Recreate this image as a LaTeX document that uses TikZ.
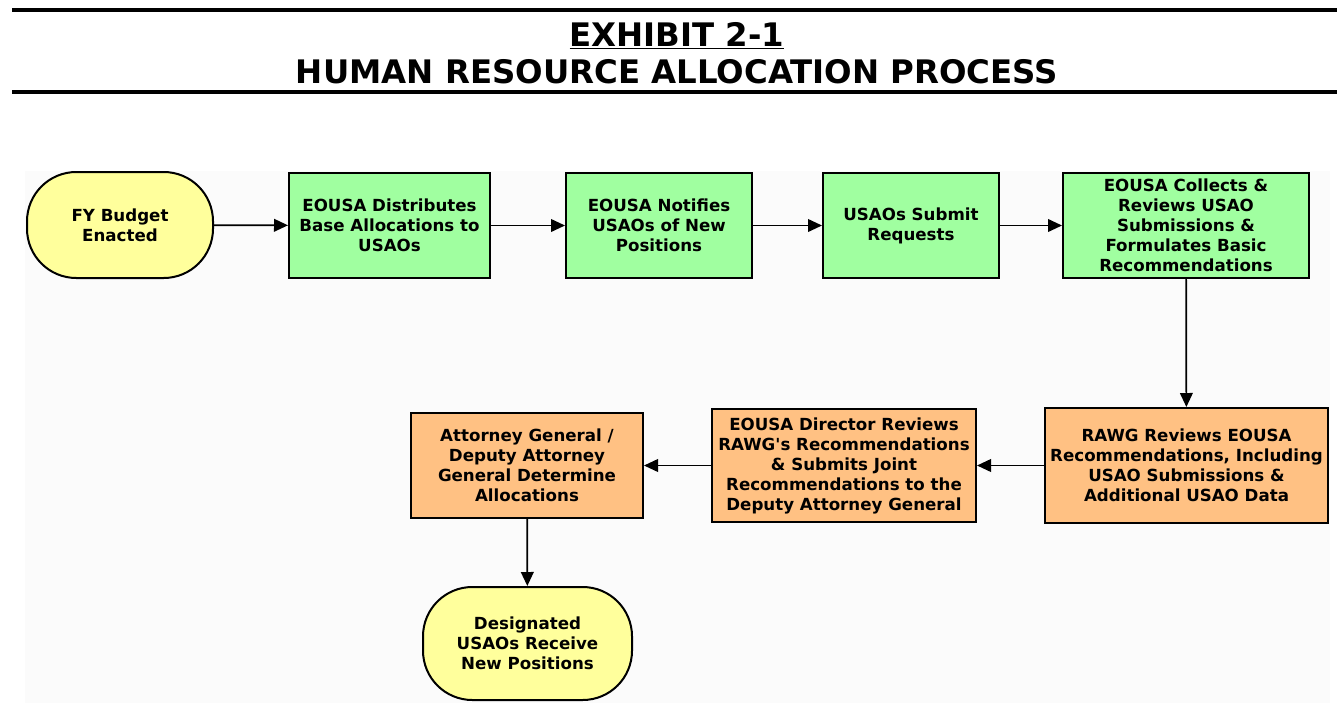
\documentclass[tikz,border=0pt]{standalone}
\usepackage{fontspec}
\setmainfont{DejaVu Sans}
\usetikzlibrary{arrows.meta}

\definecolor{stepgreen}{HTML}{A0FFA0}
\definecolor{steporange}{HTML}{FFC183}
\definecolor{stepyellow}{HTML}{FFFF9C}

\begin{document}
\begin{tikzpicture}[x=0.75pt, y=-0.75pt,
  every node/.style={font=\bfseries\fontsize{12.5}{15}\selectfont, align=center, inner sep=0pt},
  terminal/.style={draw, line width=1.5pt, fill=stepyellow, rounded corners=37pt},
  greenbox/.style={draw, line width=1.5pt, fill=stepgreen},
  orangebox/.style={draw, line width=1.5pt, fill=steporange},
  flow/.style={-{Triangle[length=10.5pt, width=9.5pt]}, line width=1.3pt}]
  \useasboundingbox (0,0) rectangle (1337,703);

  % Background and rules
  \fill[black!1.5] (25,171) rectangle (1330,703);
  \draw[line width=3pt] (12,10) -- (1337,10);
  \draw[line width=3pt] (12,92) -- (1337,92);
  \node[font=\bfseries\fontsize{24.3}{28}\selectfont] (title) at (677,53)
    {\underline{EXHIBIT 2-1}\\HUMAN RESOURCE ALLOCATION PROCESS};

  % Nodes
  \node[terminal, minimum width=139.5pt, minimum height=79.5pt] (budget) at (120,225)
    {FY Budget\\Enacted};
  \node[greenbox, minimum width=150.75pt, minimum height=78.75pt] (distribute) at (389.5,225.5)
    {EOUSA Distributes\\Base Allocations to\\USAOs};
  \node[greenbox, minimum width=139.5pt, minimum height=78.75pt] (notify) at (659,225.5)
    {EOUSA Notifies\\USAOs of New\\Positions};
  \node[greenbox, minimum width=132pt, minimum height=78.75pt] (submit) at (911,225.5)
    {USAOs Submit\\Requests};
  \node[greenbox, minimum width=184.5pt, minimum height=78.75pt] (collect) at (1186,225.5)
    {EOUSA Collects \&\\Reviews USAO\\Submissions \&\\Formulates Basic\\Recommendations};
  \node[orangebox, minimum width=212.25pt, minimum height=86.25pt] (rawg) at (1186.5,465.5)
    {RAWG Reviews EOUSA\\Recommendations, Including\\USAO Submissions \&\\Additional USAO Data};
  \node[orangebox, minimum width=198pt, minimum height=84.75pt] (director) at (844,465.5)
    {EOUSA Director Reviews\\RAWG\textquotesingle s Recommendations\\\& Submits Joint\\Recommendations to the\\Deputy Attorney General};
  \node[orangebox, minimum width=174pt, minimum height=78.75pt] (ag) at (527,465.5)
    {Attorney General /\\Deputy Attorney\\General Determine\\Allocations};
  \node[terminal, minimum width=156.75pt, minimum height=84.75pt] (receive) at (527.5,643.5)
    {Designated\\USAOs Receive\\New Positions};

  % Arrows
  \draw[flow] (budget) -- (distribute);
  \draw[flow] (distribute) -- (notify);
  \draw[flow] (notify) -- (submit);
  \draw[flow] (submit) -- (collect);
  \draw[flow] (collect) -- (rawg);
  \draw[flow] (rawg) -- (director);
  \draw[flow] (director) -- (ag);
  \draw[flow] (ag) -- (receive);
\end{tikzpicture}
\end{document}
